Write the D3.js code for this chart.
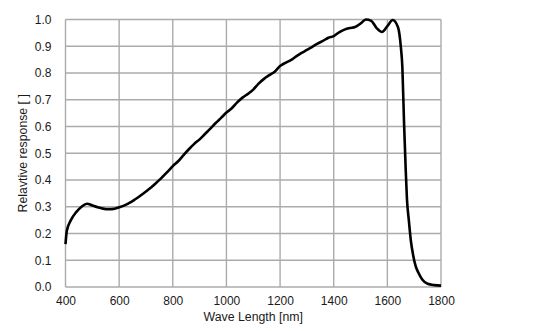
<!DOCTYPE html>
<html>
<head>
<meta charset="utf-8">
<script src="https://cdn.jsdelivr.net/npm/d3@7"></script>
<style>
  html, body { margin: 0; padding: 0; background: #fff; }
  svg { display: block; }
  text { font-family: "Liberation Sans", Arial, sans-serif; fill: #1a1a1a; }
</style>
</head>
<body>
<svg id="chart" width="554" height="331"></svg>
<script>
// Spectral response curve: wavelength [nm] vs relative response
const wavelengths = [
  400, 405, 420, 440, 460, 480, 500, 520, 540, 560, 580, 600, 620, 640, 660, 680,
  700, 720, 740, 760, 780, 800, 820, 840, 860, 880, 900, 920, 940, 960, 980,
  1000, 1020, 1040, 1060, 1080, 1100, 1120, 1140, 1160, 1180, 1200, 1220, 1240,
  1260, 1280, 1300, 1320, 1340, 1360, 1380, 1400, 1420, 1440, 1460, 1480, 1500,
  1520, 1540, 1560, 1580, 1600, 1620, 1640, 1650, 1656, 1662, 1668, 1673, 1680,
  1688, 1696, 1705, 1715, 1730, 1750, 1775, 1800
];
const response = [
  0.16, 0.21, 0.25, 0.28, 0.30, 0.311, 0.305, 0.298, 0.293, 0.291, 0.292, 0.298, 0.305, 0.315, 0.328, 0.342,
  0.357, 0.373, 0.391, 0.41, 0.43, 0.452, 0.47, 0.493, 0.515, 0.535, 0.552, 0.572, 0.592, 0.613, 0.632,
  0.652, 0.668, 0.69, 0.708, 0.722, 0.738, 0.76, 0.778, 0.792, 0.805, 0.826, 0.838, 0.848,
  0.862, 0.875, 0.886, 0.898, 0.91, 0.92, 0.932, 0.938, 0.952, 0.962, 0.968, 0.972, 0.985,
  1.0, 0.995, 0.968, 0.953, 0.975, 0.998, 0.97, 0.9, 0.82, 0.62, 0.45, 0.33, 0.25,
  0.17, 0.12, 0.08, 0.055, 0.028, 0.012, 0.007, 0.005
];
const xTicks = [400, 600, 800, 1000, 1200, 1400, 1600, 1800];
const yTicks = [0.0, 0.1, 0.2, 0.3, 0.4, 0.5, 0.6, 0.7, 0.8, 0.9, 1.0];
const xTitle = "Wave Length [nm]";
const yTitle = "Relavtive response [ ]";

const svg = d3.select("#chart");
const plot = { left: 65.5, right: 441, top: 19.5, bottom: 287 };

const x = d3.scaleLinear().domain([400, 1800]).range([plot.left, plot.right]);
const y = d3.scaleLinear().domain([0, 1]).range([plot.bottom, plot.top]);

// Gridlines on every tick, including the frame edges
const grid = svg.append("g").attr("stroke", "#ababab").attr("stroke-width", 1.4);
grid.selectAll("line.v").data(xTicks).join("line")
  .attr("class", "v")
  .attr("x1", d => x(d)).attr("x2", d => x(d))
  .attr("y1", plot.top).attr("y2", plot.bottom);
grid.selectAll("line.h").data(yTicks).join("line")
  .attr("class", "h")
  .attr("x1", plot.left).attr("x2", plot.right)
  .attr("y1", d => y(d)).attr("y2", d => y(d));

// Axes (labels only; the frame comes from the grid)
const xAxis = svg.append("g")
  .attr("transform", `translate(0,${plot.bottom})`)
  .call(d3.axisBottom(x).tickValues(xTicks).tickFormat(d3.format("d")).tickSize(0).tickPadding(9));
const yAxis = svg.append("g")
  .attr("transform", `translate(${plot.left},0)`)
  .call(d3.axisLeft(y).tickValues(yTicks).tickFormat(d3.format(".1f")).tickSize(0).tickPadding(14));
[xAxis, yAxis].forEach(a => {
  a.select(".domain").remove();
  a.selectAll("text").attr("font-size", 12).attr("font-family", "Liberation Sans, Arial, sans-serif").attr("fill", "#1a1a1a");
});

// Response curve
const pts = wavelengths.map((w, i) => [w, response[i]]);
svg.append("path")
  .datum(pts)
  .attr("fill", "none")
  .attr("stroke", "#000")
  .attr("stroke-width", 2.6)
  .attr("stroke-linejoin", "round")
  .attr("d", d3.line().x(d => x(d[0])).y(d => y(d[1])).curve(d3.curveMonotoneX));

// Axis titles
svg.append("text")
  .attr("x", (plot.left + plot.right) / 2)
  .attr("y", 321)
  .attr("text-anchor", "middle")
  .attr("font-size", 12.3)
  .text(xTitle);
svg.append("text")
  .attr("transform", `translate(27,${(plot.top + plot.bottom) / 2}) rotate(-90)`)
  .attr("text-anchor", "middle")
  .attr("font-size", 12.3)
  .text(yTitle);
</script>
</body>
</html>
